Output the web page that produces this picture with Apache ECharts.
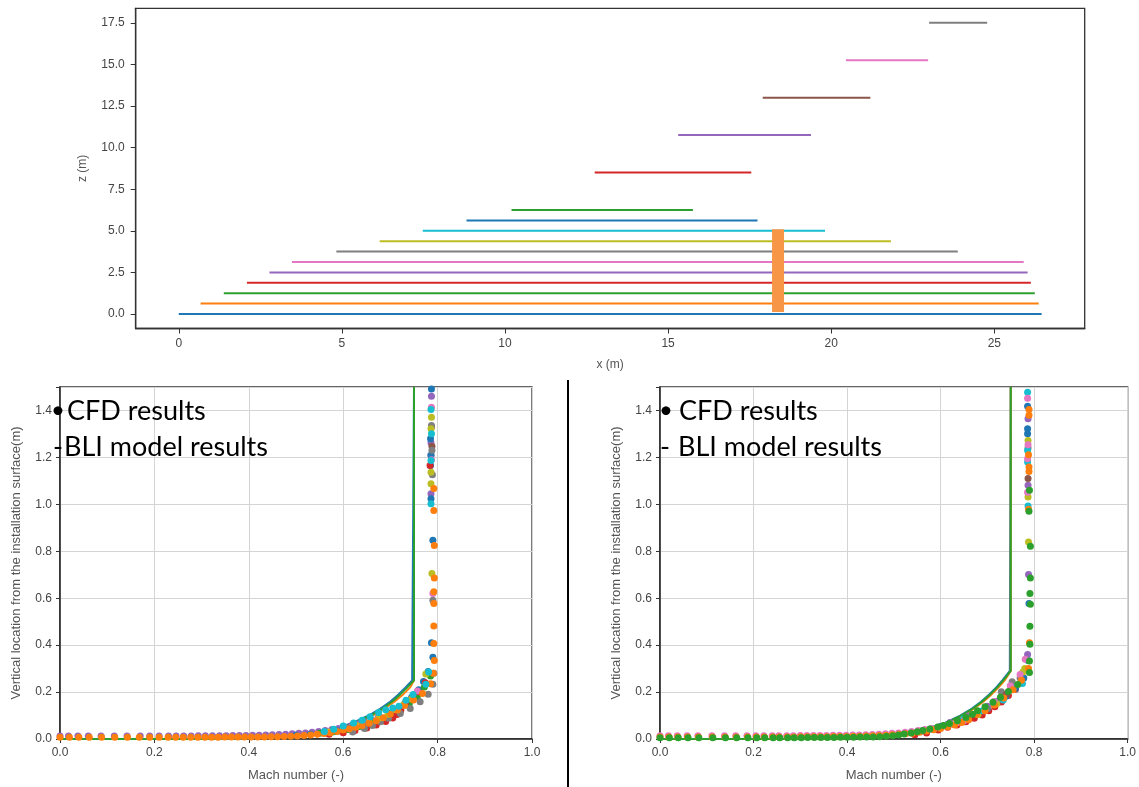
<!DOCTYPE html>
<html>
<head>
<meta charset="utf-8">
<script src="https://cdn.jsdelivr.net/npm/echarts@6/dist/echarts.min.js"></script>
<style>
html,body{margin:0;padding:0;background:#fff;}
#main{width:1139px;height:787px;}
</style>
</head>
<body>
<div id="main"></div>
<script>
// ---------- Top chart: flow-field cut levels ----------
const levelZ     = [0, 0.625, 1.25, 1.875, 2.5, 3.125, 3.75, 4.375, 5.0, 5.625, 6.25, 8.5, 10.75, 13.0, 15.25, 17.5];
const levelStart = [0, 0.67, 1.38, 2.09, 2.78, 3.47, 4.83, 6.16, 7.48, 8.82, 10.2, 12.75, 15.31, 17.9, 20.45, 23.0];
const levelEnd   = [26.45, 26.36, 26.24, 26.12, 26.02, 25.9, 23.88, 21.83, 19.81, 17.74, 15.76, 17.55, 19.38, 21.2, 22.97, 24.78];
const levelColorNames = ['blue','orange','green','red','purple','pink','gray','olive','cyan','blue','green','red','purple','brown','pink','gray'];
const barX = 18.37;
const barZ = [0.12, 5.09];
const topXTicks = [0, 5, 10, 15, 20, 25];
const topYTicks = [0, 2.5, 5, 7.5, 10, 12.5, 15, 17.5];

// ---------- Bottom-left chart: CFD points [Mach, height] ----------
const lBlue = [[0.50,0.016],[0.53,0.02],[0.56,0.026],[0.59,0.034],[0.615,0.045],[0.64,0.058],[0.66,0.072],[0.68,0.09],[0.70,0.11],[0.715,0.128],[0.73,0.15],[0.745,0.178],[0.76,0.21],[0.77,0.245],[0.78,0.288],[0.79,0.348],[0.787,0.41],[0.79,0.847],[0.786,1.024],[0.785,1.166],[0.786,1.21],[0.785,1.279],[0.787,1.492]];
const lOrange = [[0.0,0.007],[0.02,0.007],[0.04,0.007],[0.062,0.007],[0.088,0.007],[0.116,0.007],[0.143,0.007],[0.168,0.007],[0.19,0.007],[0.21,0.007],[0.229,0.007],[0.245,0.007],[0.261,0.007],[0.277,0.007],[0.292,0.007],[0.307,0.007],[0.321,0.007],[0.335,0.007],[0.349,0.008],[0.363,0.008],[0.377,0.008],[0.391,0.008],[0.405,0.008],[0.419,0.009],[0.433,0.009],[0.447,0.01],[0.461,0.01],[0.475,0.011],[0.489,0.012],[0.503,0.013],[0.517,0.015],[0.531,0.017],[0.545,0.02],[0.559,0.023],[0.573,0.027],[0.587,0.032],[0.60,0.038],[0.613,0.044],[0.626,0.05],[0.64,0.058],[0.655,0.067],[0.67,0.078],[0.685,0.091],[0.70,0.107],[0.715,0.124],[0.73,0.143],[0.749,0.166],[0.768,0.194],[0.785,0.235],[0.791,0.28],[0.793,0.335],[0.792,0.407],[0.792,0.482],[0.792,0.577],[0.792,0.627],[0.793,0.686],[0.793,0.825],[0.792,0.974],[0.792,1.067]];
const lGreen = [[0.55,0.024],[0.58,0.031],[0.61,0.041],[0.635,0.053],[0.66,0.067],[0.68,0.083],[0.70,0.101],[0.72,0.123],[0.74,0.15],[0.757,0.18],[0.772,0.222],[0.785,0.268]];
const lRed = [[0.57,0.02],[0.60,0.027],[0.625,0.036],[0.65,0.047],[0.67,0.06],[0.69,0.075],[0.705,0.09],[0.714,0.104],[0.722,0.122],[0.732,0.155],[0.745,0.172],[0.758,0.201],[0.774,0.24],[0.784,1.166]];
const lPurple = [[0.0,0.013],[0.018,0.013],[0.038,0.013],[0.06,0.013],[0.087,0.013],[0.115,0.013],[0.142,0.013],[0.17,0.013],[0.19,0.013],[0.21,0.013],[0.23,0.013],[0.246,0.013],[0.262,0.013],[0.278,0.013],[0.293,0.014],[0.308,0.014],[0.323,0.014],[0.338,0.014],[0.352,0.014],[0.366,0.015],[0.38,0.015],[0.394,0.015],[0.408,0.016],[0.422,0.016],[0.436,0.017],[0.45,0.018],[0.464,0.019],[0.478,0.02],[0.492,0.022],[0.506,0.024],[0.52,0.026],[0.534,0.029],[0.548,0.032],[0.562,0.036],[0.576,0.04],[0.59,0.045],[0.604,0.05],[0.618,0.057],[0.632,0.064],[0.646,0.072],[0.66,0.081],[0.674,0.092],[0.786,1.045],[0.786,1.208],[0.786,1.262],[0.787,1.461]];
const lBrown = [[0.788,1.247],[0.787,1.33]];
const lPink = [[0.757,0.205],[0.79,0.62],[0.787,1.19],[0.787,1.414]];
const lGray = [[0.62,0.03],[0.645,0.045],[0.662,0.058],[0.679,0.074],[0.696,0.088],[0.721,0.109],[0.742,0.13],[0.763,0.159],[0.78,0.191],[0.79,0.233],[0.792,0.28],[0.79,0.591],[0.789,1.126],[0.788,1.23],[0.787,1.336]];
const lOlive = [[0.57,0.03],[0.60,0.042],[0.63,0.056],[0.655,0.07],[0.675,0.088],[0.695,0.106],[0.712,0.125],[0.728,0.146],[0.745,0.17],[0.775,0.277],[0.788,0.705],[0.786,1.088],[0.786,1.137],[0.786,1.322],[0.787,1.371]];
const lCyan = [[0.56,0.032],[0.58,0.042],[0.60,0.055],[0.622,0.068],[0.64,0.08],[0.657,0.095],[0.675,0.113],[0.69,0.125],[0.705,0.132],[0.718,0.14],[0.733,0.165],[0.748,0.19],[0.775,0.233],[0.781,0.286],[0.786,1.003],[0.786,1.187],[0.787,1.301],[0.786,1.404]];

// BLI model profiles (left)
const bliLeftY      = [0, 0.0005, 0.002, 0.005, 0.01, 0.02, 0.03, 0.05, 0.07, 0.1, 0.13, 0.16, 0.19, 0.22, 0.25, 1.5];
const bliLeftBlue   = [0, 0.307, 0.373, 0.426, 0.470, 0.520, 0.551, 0.592, 0.621, 0.654, 0.679, 0.700, 0.717, 0.732, 0.746, 0.75];
const bliLeftOrange = [0, 0.311, 0.378, 0.432, 0.476, 0.527, 0.558, 0.600, 0.629, 0.662, 0.688, 0.709, 0.727, 0.742, 0.75, 0.75];
const bliLeftGreen  = [0, 0.309, 0.376, 0.429, 0.473, 0.523, 0.554, 0.596, 0.625, 0.658, 0.683, 0.704, 0.721, 0.736, 0.75, 0.75];

// ---------- Bottom-right chart: CFD points [Mach, height] ----------
const rPink = [[0.0,0.014],[0.018,0.014],[0.037,0.014],[0.058,0.014],[0.081,0.014],[0.111,0.014],[0.138,0.014],[0.162,0.014],[0.186,0.014],[0.205,0.014],[0.222,0.014],[0.24,0.014],[0.254,0.014],[0.271,0.014],[0.285,0.014],[0.3,0.015],[0.314,0.015],[0.328,0.015],[0.342,0.015],[0.356,0.015],[0.37,0.016],[0.384,0.016],[0.398,0.016],[0.412,0.017],[0.426,0.017],[0.44,0.018],[0.454,0.019],[0.468,0.02],[0.482,0.022],[0.496,0.024],[0.51,0.026],[0.524,0.029],[0.538,0.032],[0.552,0.036],[0.566,0.04],[0.58,0.045],[0.594,0.05],[0.608,0.056],[0.622,0.063],[0.636,0.07],[0.65,0.078],[0.714,0.16],[0.749,0.227],[0.77,0.275],[0.781,0.34],[0.786,1.052],[0.786,1.194],[0.787,1.254],[0.786,1.452]];
const rOrange = [[0.0,0.009],[0.019,0.009],[0.038,0.009],[0.059,0.009],[0.082,0.009],[0.112,0.009],[0.139,0.009],[0.163,0.009],[0.187,0.009],[0.206,0.009],[0.223,0.009],[0.241,0.009],[0.255,0.009],[0.272,0.009],[0.286,0.009],[0.301,0.01],[0.315,0.01],[0.329,0.01],[0.343,0.01],[0.357,0.01],[0.371,0.011],[0.385,0.011],[0.399,0.011],[0.413,0.012],[0.427,0.012],[0.441,0.013],[0.455,0.014],[0.469,0.015],[0.483,0.016],[0.497,0.018],[0.511,0.02],[0.525,0.022],[0.54,0.025],[0.555,0.029],[0.57,0.034],[0.585,0.039],[0.60,0.045],[0.615,0.052],[0.63,0.06],[0.645,0.07],[0.66,0.082],[0.677,0.105],[0.695,0.12],[0.715,0.145],[0.735,0.175],[0.755,0.21],[0.773,0.25],[0.788,0.3],[0.79,0.41],[0.788,0.979],[0.789,1.14],[0.789,1.159],[0.788,1.211],[0.789,1.38],[0.789,1.404]];
const rGreen = [[0.0,0.005],[0.02,0.005],[0.039,0.005],[0.06,0.005],[0.083,0.005],[0.113,0.005],[0.14,0.005],[0.164,0.005],[0.188,0.005],[0.207,0.005],[0.224,0.005],[0.242,0.005],[0.256,0.005],[0.273,0.005],[0.287,0.005],[0.302,0.005],[0.316,0.006],[0.33,0.006],[0.344,0.006],[0.358,0.006],[0.372,0.006],[0.386,0.007],[0.40,0.007],[0.414,0.007],[0.428,0.008],[0.442,0.008],[0.456,0.009],[0.47,0.01],[0.484,0.012],[0.498,0.014],[0.51,0.017],[0.522,0.021],[0.537,0.026],[0.55,0.031],[0.562,0.036],[0.577,0.043],[0.594,0.051],[0.606,0.058],[0.619,0.066],[0.636,0.078],[0.654,0.092],[0.668,0.105],[0.679,0.12],[0.695,0.137],[0.712,0.157],[0.728,0.178],[0.745,0.202],[0.765,0.232],[0.79,0.283],[0.79,0.332],[0.791,0.404],[0.791,0.481],[0.792,0.574],[0.791,0.62],[0.792,0.686],[0.792,0.821],[0.789,0.97],[0.79,1.06]];
const rRed = [[0.545,0.018],[0.57,0.026],[0.595,0.038],[0.615,0.05],[0.635,0.06],[0.654,0.074],[0.672,0.088],[0.689,0.102],[0.703,0.12],[0.716,0.137],[0.73,0.158],[0.745,0.185],[0.76,0.212]];
const rBlue = [[0.56,0.034],[0.58,0.043],[0.60,0.053],[0.62,0.064],[0.64,0.077],[0.66,0.092],[0.68,0.11],[0.70,0.13],[0.72,0.155],[0.74,0.182],[0.76,0.215],[0.778,0.26],[0.787,0.335],[0.789,0.577],[0.786,1.301],[0.786,1.322],[0.786,1.418]];
const rPurple = [[0.62,0.07],[0.66,0.098],[0.70,0.14],[0.72,0.16],[0.786,0.36],[0.788,0.701],[0.787,1.081],[0.787,1.365]];
const rGray = [[0.66,0.09],[0.70,0.13],[0.73,0.201],[0.753,0.244],[0.77,0.26],[0.787,1.24]];
const rOlive = [[0.68,0.104],[0.72,0.15],[0.776,0.286],[0.78,0.3],[0.788,0.84],[0.787,1.031],[0.787,1.272]];
const rCyan = [[0.65,0.087],[0.69,0.12],[0.734,0.166],[0.775,0.237],[0.787,0.993],[0.786,1.18],[0.786,1.23],[0.786,1.478]];
const rBrown = [[0.74,0.19],[0.787,1.11]];

// BLI model profiles (right)
const bliRightY      = [0, 0.0005, 0.002, 0.005, 0.01, 0.02, 0.03, 0.05, 0.07, 0.1, 0.13, 0.16, 0.19, 0.22, 0.25, 0.29, 1.5];
const bliRightBlue   = [0, 0.300, 0.366, 0.418, 0.462, 0.510, 0.540, 0.581, 0.610, 0.642, 0.667, 0.687, 0.704, 0.719, 0.732, 0.748, 0.75];
const bliRightOrange = [0, 0.304, 0.371, 0.423, 0.467, 0.515, 0.545, 0.586, 0.615, 0.647, 0.672, 0.692, 0.709, 0.724, 0.737, 0.75, 0.75];
const bliRightGreen  = [0, 0.302, 0.368, 0.420, 0.464, 0.512, 0.542, 0.583, 0.612, 0.644, 0.669, 0.689, 0.706, 0.721, 0.734, 0.75, 0.75];

// ---------- build ----------
const tab = {blue:'#1f77b4', orange:'#ff7f0e', green:'#2ca02c', red:'#d62728', purple:'#9467bd',
             brown:'#8c564b', pink:'#e377c2', gray:'#7f7f7f', olive:'#bcbd22', cyan:'#17becf'};
const labelFont = 'Liberation Sans';
const tickColor = '#444';
const nameColor = '#555';

const series = [];
levelZ.forEach((z, i) => {
  series.push({
    type: 'line', xAxisIndex: 0, yAxisIndex: 0, showSymbol: false, silent: true,
    data: [[levelStart[i], z], [levelEnd[i], z]],
    lineStyle: {width: 2, color: tab[levelColorNames[i]]}, z: 2
  });
});
series.push({
  type: 'line', xAxisIndex: 0, yAxisIndex: 0, showSymbol: false, silent: true,
  data: [[barX, barZ[0]], [barX, barZ[1]]],
  lineStyle: {width: 12, color: '#f79646', cap: 'butt'}, z: 5
});

function bliLine(ax, ys, ms, color) {
  series.push({
    type: 'line', xAxisIndex: ax, yAxisIndex: ax, showSymbol: false, silent: true,
    data: ms.map((m, i) => [m, ys[i]]),
    lineStyle: {width: 2, color: color}, z: 2
  });
}
bliLine(1, bliLeftY, bliLeftBlue, tab.blue);
bliLine(1, bliLeftY, bliLeftOrange, tab.orange);
bliLine(1, bliLeftY, bliLeftGreen, tab.green);
bliLine(2, bliRightY, bliRightBlue, tab.blue);
bliLine(2, bliRightY, bliRightOrange, tab.orange);
bliLine(2, bliRightY, bliRightGreen, tab.green);

function cfd(ax, data, color) {
  series.push({
    type: 'scatter', xAxisIndex: ax, yAxisIndex: ax, silent: true,
    data: data, symbolSize: 7, itemStyle: {color: color, opacity: 1}, z: 3
  });
}
[[lPurple,'purple'],[lBlue,'blue'],[lGreen,'green'],[lRed,'red'],[lBrown,'brown'],[lPink,'pink'],
 [lGray,'gray'],[lOlive,'olive'],[lOrange,'orange'],[lCyan,'cyan']].forEach(p => cfd(1, p[0], tab[p[1]]));
[[rRed,'red'],[rBlue,'blue'],[rPurple,'purple'],[rGray,'gray'],[rOlive,'olive'],[rCyan,'cyan'],
 [rBrown,'brown'],[rPink,'pink'],[rOrange,'orange'],[rGreen,'green']].forEach(p => cfd(2, p[0], tab[p[1]]));

const fix1 = v => Number(v).toFixed(1);

function machX(gi) {
  return {
    type: 'value', gridIndex: gi, min: 0, max: 1, interval: 0.2,
    name: 'Mach number (-)', nameLocation: 'middle', nameGap: 30,
    nameTextStyle: {fontFamily: labelFont, fontSize: 13, color: nameColor},
    axisLine: {show: true, onZero: false, lineStyle: {color: '#222', width: 1.5}},
    axisTick: {show: true, length: 4, lineStyle: {color: '#333'}},
    axisLabel: {formatter: fix1, fontFamily: labelFont, fontSize: 12, color: tickColor, margin: 8},
    splitLine: {show: true, lineStyle: {color: '#d4d4d4', width: 1}}
  };
}
function heightY(gi) {
  return {
    type: 'value', gridIndex: gi, min: 0, max: 1.5, interval: 0.2,
    name: 'Vertical location from the installation surface(m)', nameLocation: 'middle', nameGap: 37,
    nameTextStyle: {fontFamily: labelFont, fontSize: 13, color: nameColor},
    axisLine: {show: true, onZero: false, lineStyle: {color: '#222', width: 1.5}},
    axisTick: {show: true, length: 4, lineStyle: {color: '#333'}},
    axisLabel: {formatter: v => (v > 1.45 ? '' : fix1(v)), fontFamily: labelFont, fontSize: 12, color: tickColor, margin: 8},
    splitLine: {show: true, lineStyle: {color: '#d4d4d4', width: 1}}
  };
}

const option = {
  backgroundColor: '#ffffff',
  animation: false,
  grid: [
    {left: 135.7, top: 8.3, width: 949, height: 320.2, show: true, borderColor: '#333', borderWidth: 1.3, containLabel: false},
    {left: 60, top: 387, width: 472, height: 352, show: true, borderColor: '#333', borderWidth: 1.3, containLabel: false},
    {left: 660, top: 387, width: 472, height: 352, show: true, borderColor: '#333', borderWidth: 1.3, containLabel: false}
  ],
  xAxis: [
    {
      type: 'value', gridIndex: 0, min: -1.32, max: 27.77,
      name: 'x (m)', nameLocation: 'middle', nameGap: 30,
      nameTextStyle: {fontFamily: labelFont, fontSize: 12, color: nameColor},
      axisLine: {show: true, onZero: false, lineStyle: {color: '#333', width: 1.3}},
      axisTick: {show: true, length: 5, customValues: topXTicks, lineStyle: {color: '#333'}},
      axisLabel: {customValues: topXTicks, fontFamily: labelFont, fontSize: 12, color: tickColor, margin: 9},
      splitLine: {show: false}
    },
    machX(1), machX(2)
  ],
  yAxis: [
    {
      type: 'value', gridIndex: 0, min: -0.87, max: 18.37,
      name: 'z (m)', nameLocation: 'middle', nameGap: 47,
      nameTextStyle: {fontFamily: labelFont, fontSize: 12, color: nameColor},
      axisLine: {show: true, onZero: false, lineStyle: {color: '#333', width: 1.3}},
      axisTick: {show: true, length: 5, customValues: topYTicks, lineStyle: {color: '#333'}},
      axisLabel: {customValues: topYTicks, formatter: fix1, fontFamily: labelFont, fontSize: 12, color: tickColor, margin: 11},
      splitLine: {show: false}
    },
    heightY(1), heightY(2)
  ],
  series: series,
  graphic: [
    {type: 'line', shape: {x1: 568, y1: 380, x2: 568, y2: 787}, style: {stroke: '#000', lineWidth: 2}, z: 100},
    {type: 'text', x: 51, y: 410, style: {text: '\u2022', font: '24px Lato', fill: '#000', textVerticalAlign: 'middle'}, z: 100},
    {type: 'text', x: 67, y: 411, style: {text: 'CFD results', font: '27px Lato', fill: '#000', textVerticalAlign: 'middle'}, z: 100},
    {type: 'text', x: 53, y: 447, style: {text: '-', font: '27px Lato', fill: '#000', textVerticalAlign: 'middle'}, z: 100},
    {type: 'text', x: 64, y: 447, style: {text: 'BLI model results', font: '27px Lato', fill: '#000', textVerticalAlign: 'middle'}, z: 100},
    {type: 'text', x: 659, y: 410, style: {text: '\u2022', font: '24px Lato', fill: '#000', textVerticalAlign: 'middle'}, z: 100},
    {type: 'text', x: 679, y: 411, style: {text: 'CFD results', font: '27px Lato', fill: '#000', textVerticalAlign: 'middle'}, z: 100},
    {type: 'text', x: 660, y: 447, style: {text: '-', font: '27px Lato', fill: '#000', textVerticalAlign: 'middle'}, z: 100},
    {type: 'text', x: 678, y: 447, style: {text: 'BLI model results', font: '27px Lato', fill: '#000', textVerticalAlign: 'middle'}, z: 100}
  ]
};

const chart = echarts.init(document.getElementById('main'), null, {renderer: 'canvas', width: 1139, height: 787});
chart.setOption(option);
</script>
</body>
</html>
